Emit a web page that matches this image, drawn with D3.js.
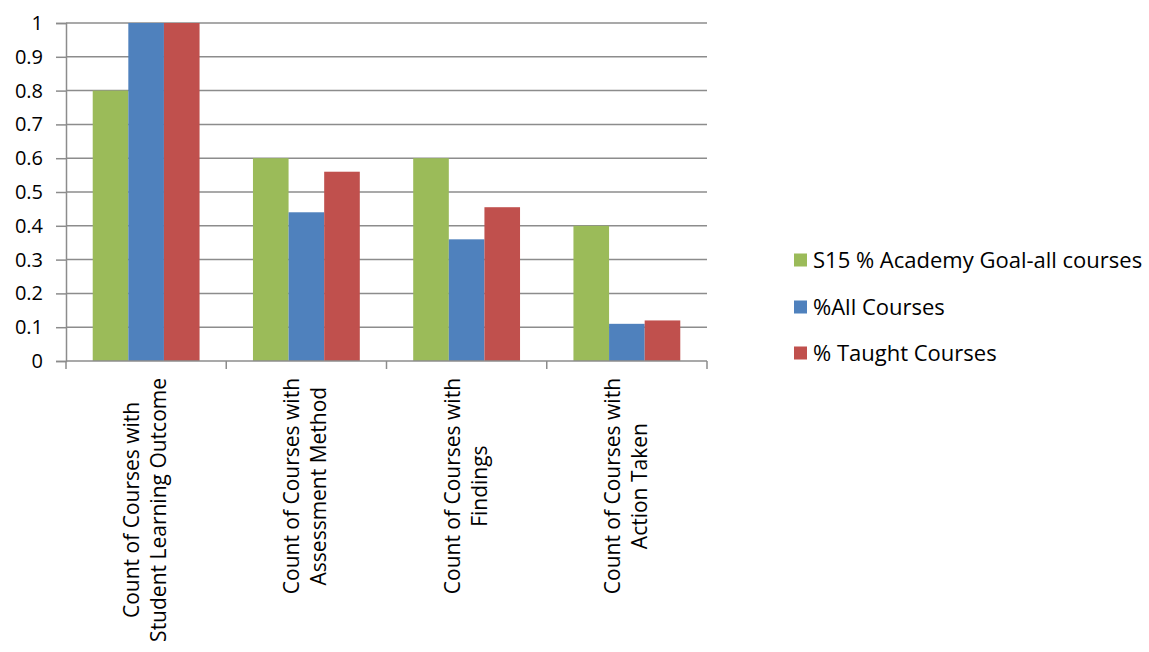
<!DOCTYPE html>
<html>
<head>
<meta charset="utf-8">
<script src="https://cdn.jsdelivr.net/npm/d3@7"></script>
<style>
  body { margin: 0; background: #fff; }
  text { font-family: "Open Sans", sans-serif; fill: #000; }
</style>
</head>
<body>
<svg id="chart"></svg>
<script>
// chart data
const categories = [
  "Count of Courses with|Student Learning Outcome",
  "Count of Courses with|Assessment Method",
  "Count of Courses with|Findings",
  "Count of Courses with|Action Taken"
];
const seriesNames = ["S15 % Academy Goal-all courses", "%All Courses", "% Taught Courses"];
const goalValues = [0.8, 0.6, 0.6, 0.4];
const allValues = [1.0, 0.44, 0.36, 0.11];
const taughtValues = [1.0, 0.56, 0.455, 0.12];
const yTicks = [0, 0.1, 0.2, 0.3, 0.4, 0.5, 0.6, 0.7, 0.8, 0.9, 1];
const colors = ["#9bbb59", "#4f81bd", "#c0504d"];

const width = 1149, height = 652;
const margin = { top: 23, left: 66, right: 442, bottom: 291 };
const innerW = width - margin.left - margin.right;
const innerH = height - margin.top - margin.bottom;

const svg = d3.select("#chart").attr("width", width).attr("height", height);
const chart = svg.append("g").attr("transform", `translate(${margin.left},${margin.top})`);

const x0 = d3.scaleBand().domain(categories).range([0, innerW]).paddingInner(0.3333).paddingOuter(0.1667);
const xBound = d3.scaleBand().domain(categories).range([0, innerW]);
const x1 = d3.scaleBand().domain(seriesNames).range([0, x0.bandwidth()]);
const y = d3.scaleLinear().domain([0, 1]).range([innerH, 0]);

// gridlines
chart.append("g")
  .selectAll("line")
  .data(yTicks.slice(1))
  .join("line")
    .attr("x1", 0).attr("x2", innerW)
    .attr("y1", d => y(d)).attr("y2", d => y(d))
    .attr("stroke", "#8c8c8c").attr("stroke-width", 1.5);

// bars
const series = [goalValues, allValues, taughtValues];
const rows = [];
categories.forEach((c, i) => {
  seriesNames.forEach((s, j) => rows.push({ cat: c, name: s, value: series[j][i], color: colors[j] }));
});
chart.selectAll(".bar")
  .data(rows)
  .join("rect")
    .attr("class", "bar")
    .attr("x", d => x0(d.cat) + x1(d.name))
    .attr("y", d => y(d.value))
    .attr("width", x1.bandwidth())
    .attr("height", d => y(0) - y(d.value))
    .attr("fill", d => d.color);

// y axis
const yAxis = d3.axisLeft(y).tickValues(yTicks).tickSize(10).tickPadding(13)
  .tickFormat(d => d === 0 ? "0" : d3.format("~g")(d));
const yG = chart.append("g").call(yAxis);
yG.select(".domain").attr("stroke", "#8c8c8c").attr("stroke-width", 1.5);
yG.selectAll(".tick line").attr("stroke", "#8c8c8c").attr("stroke-width", 1.5);
yG.selectAll(".tick text").style("font-size", "20px").attr("fill", "#000");

// x axis line + ticks at category boundaries
chart.append("line")
  .attr("x1", 0).attr("x2", innerW).attr("y1", innerH).attr("y2", innerH)
  .attr("stroke", "#8c8c8c").attr("stroke-width", 1.5);
chart.append("g")
  .selectAll("line")
  .data(categories.map(c => xBound(c)).concat([innerW]))
  .join("line")
    .attr("x1", d => d).attr("x2", d => d)
    .attr("y1", innerH).attr("y2", innerH + 8)
    .attr("stroke", "#8c8c8c").attr("stroke-width", 1.5);

// category labels (rotated, two lines, centred on each other)
const labelTop = innerH + 17;
const lineGap = 27;
const labels = chart.selectAll(".cat")
  .data(categories)
  .join("text")
    .attr("class", "cat")
    .style("font-size", "21px")
    .attr("text-anchor", "middle");
labels.each(function(d) {
  const t = d3.select(this);
  const lines = d.split("|");
  lines.forEach((ln, k) => {
    t.append("tspan").attr("x", 0).attr("dy", k === 0 ? 0 : lineGap).text(ln);
  });
  let maxLen = 0;
  t.selectAll("tspan").each(function() { maxLen = Math.max(maxLen, this.getComputedTextLength()); });
  const cx = xBound(d) + xBound.bandwidth() / 2 - 7;
  const cy = labelTop + maxLen / 2;
  t.attr("transform", `translate(${cx},${cy}) rotate(-90)`);
});

// legend
const legend = svg.append("g").attr("transform", "translate(794,0)");
const legendY = [260, 307, 353];
seriesNames.forEach((s, i) => {
  legend.append("rect")
    .attr("x", 0).attr("y", legendY[i] - 6.5)
    .attr("width", 13).attr("height", 13)
    .attr("fill", colors[i]);
  legend.append("text")
    .attr("x", 19).attr("y", legendY[i])
    .attr("dy", "0.35em")
    .style("font-size", "22px")
    .text(s);
});
</script>
</body>
</html>
